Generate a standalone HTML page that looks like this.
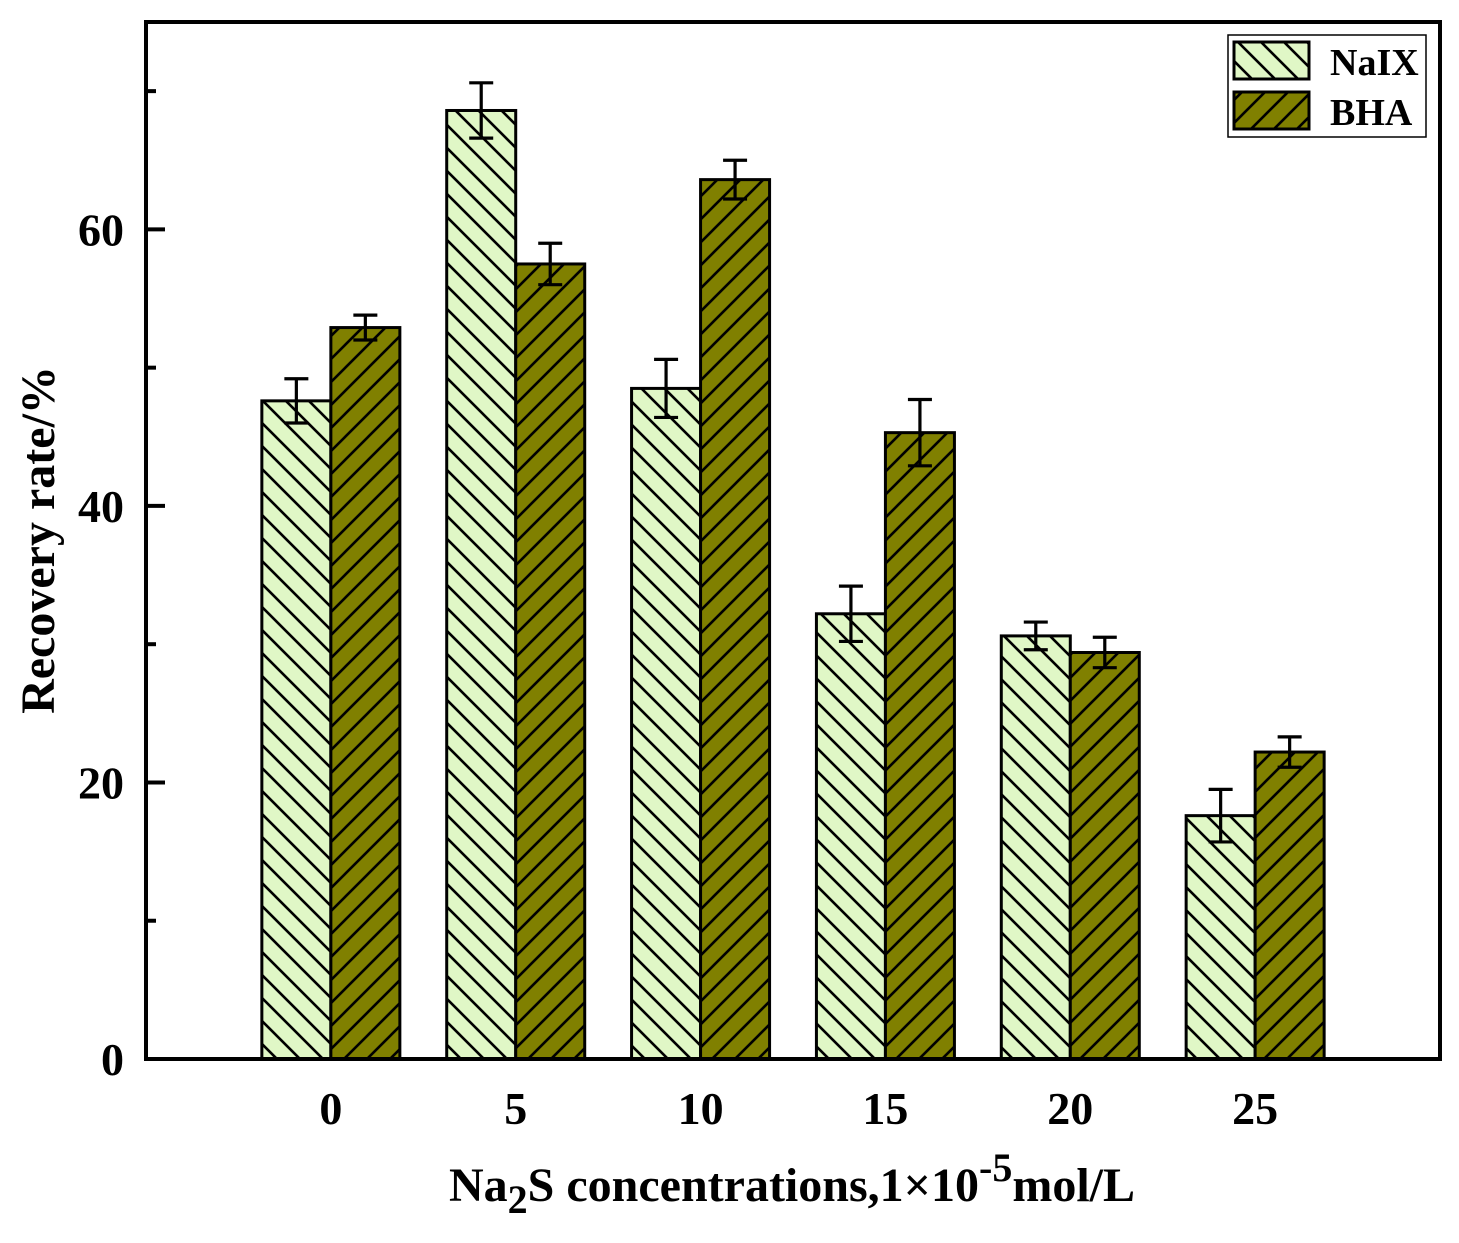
<!DOCTYPE html>
<html><head><meta charset="utf-8"><style>
body{margin:0;background:#fff}
svg text{font-family:"Liberation Serif",serif;font-weight:bold;fill:#000}
</style></head><body>
<svg id="chart" width="1459" height="1238" viewBox="0 0 1459 1238" xmlns="http://www.w3.org/2000/svg">
<defs>
<pattern id="hatchA" patternUnits="userSpaceOnUse" width="23" height="23">
<rect width="23" height="23" fill="#e0f7c6"/>
<path d="M-6,-6 L29,29 M-6,17 L6,29 M17,-6 L29,6" stroke="#000" stroke-width="2.6"/>
</pattern>
<pattern id="hatchB" patternUnits="userSpaceOnUse" width="23" height="23">
<rect width="23" height="23" fill="#808000"/>
<path d="M-6,29 L29,-6 M-6,6 L6,-6 M17,29 L29,17" stroke="#000" stroke-width="2.6"/>
</pattern>
</defs>
<g id="bars"></g>
<g id="axes"></g>
<g>
<rect x="1228" y="35" width="198" height="102" fill="#fff" stroke="#000" stroke-width="1.5"/>
<rect x="1234" y="42" width="75" height="37" fill="url(#hatchA)" stroke="#000" stroke-width="3"/>
<text x="1330" y="75" font-size="38">NaIX</text>
<rect x="1234" y="92" width="75" height="37" fill="url(#hatchB)" stroke="#000" stroke-width="3"/>
<text x="1330" y="125" font-size="38">BHA</text>
</g>
<text transform="translate(54,540) rotate(-90)" text-anchor="middle" font-size="48">Recovery rate/%</text>
<text x="792" y="1201" text-anchor="middle" font-size="48">Na<tspan font-size="40" dy="12">2</tspan><tspan dy="-12">S concentrations,1×10</tspan><tspan font-size="40" dy="-20">-5</tspan><tspan dy="20">mol/L</tspan></text>
</svg>
<script>
const categories = [0, 5, 10, 15, 20, 25];
const naixValues = [47.6, 68.6, 48.5, 32.2, 30.6, 17.6];
const naixErrors = [1.6, 2.0, 2.1, 2.0, 1.0, 1.9];
const bhaValues = [52.9, 57.5, 63.6, 45.3, 29.4, 22.2];
const bhaErrors = [0.9, 1.5, 1.4, 2.4, 1.1, 1.1];
const yTicks = [0, 20, 40, 60];
const yMinorTicks = [10, 30, 50, 70];

const NS = "http://www.w3.org/2000/svg";
const L = 146, R = 1440, T = 22, B = 1059;
const xMin = -5, xMax = 30, yMin = 0, yMax = 75;
const xs = v => L + (v - xMin) / (xMax - xMin) * (R - L);
const ys = v => B - (v - yMin) / (yMax - yMin) * (B - T);
const barW = 69;
function mk(tag, attrs, parent) { const e = document.createElementNS(NS, tag); for (const k in attrs) e.setAttribute(k, attrs[k]); parent.appendChild(e); return e; }
const bars = document.getElementById('bars');
const axes = document.getElementById('axes');

function series(vals, errs, fill, offset, key) {
  vals.forEach((v, i) => {
    const cx = xs(categories[i]);
    const x0 = offset < 0 ? cx - barW : cx;
    const r = mk('rect', { x: x0, y: ys(v), width: barW, height: ys(0) - ys(v), fill: fill, stroke: '#000', 'stroke-width': 3 }, bars);
    
    
    const ex = x0 + barW / 2;
    const g = mk('g', { stroke: '#000', 'stroke-width': 3.2 }, bars);
    
    
    const top = ys(v + errs[i]), bot = ys(v - errs[i]);
    mk('line', { x1: ex, x2: ex, y1: top, y2: bot }, g);
    mk('line', { x1: ex - 12, x2: ex + 12, y1: top, y2: top }, g);
    mk('line', { x1: ex - 12, x2: ex + 12, y1: bot, y2: bot }, g);
  });
}
series(naixValues, naixErrors, 'url(#hatchA)', -1, 'naix');
series(bhaValues, bhaErrors, 'url(#hatchB)', 1, 'bha');

const frame = mk('rect', { x: L, y: T, width: R - L, height: B - T, fill: 'none', stroke: '#000', 'stroke-width': 4 }, axes);


yTicks.forEach(t => {
  const l = mk('line', { x1: L, x2: L + 19, y1: ys(t), y2: ys(t), stroke: '#000', 'stroke-width': 4 }, axes);
  
  
  const tx = mk('text', { x: 124, y: ys(t) + 16, 'text-anchor': 'end', 'font-size': 46 }, axes);
  tx.textContent = t;
  
  
});
yMinorTicks.forEach(t => {
  const l = mk('line', { x1: L, x2: L + 10, y1: ys(t), y2: ys(t), stroke: '#000', 'stroke-width': 4 }, axes);
  
  
});
categories.forEach(c => {
  const tx = mk('text', { x: xs(c), y: 1124, 'text-anchor': 'middle', 'font-size': 46 }, axes);
  tx.textContent = c;
  
  
});
</script>
</body></html>
